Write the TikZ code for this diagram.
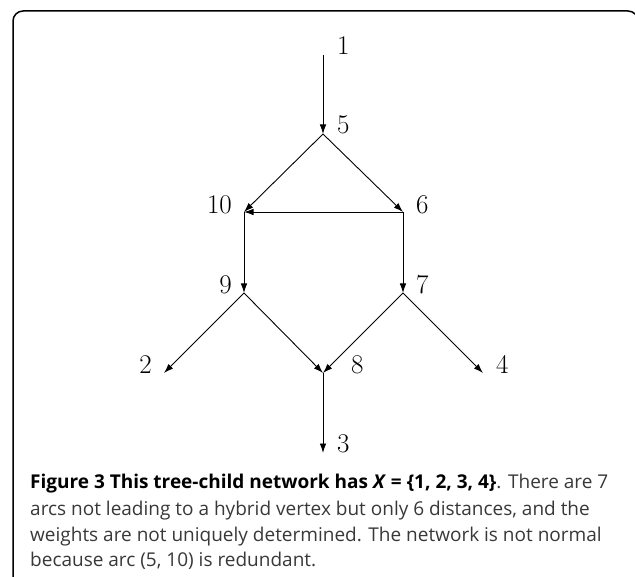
\documentclass[tikz,border=0pt]{standalone}
\usepackage{fontspec}
\newfontfamily\capfont{Open Sans}
\usetikzlibrary{arrows.meta}
\begin{document}
\begin{tikzpicture}[x=1pt,y=-1pt,
  arc/.style={line width=0.9pt,-{Latex[length=9.5pt,width=6.5pt]}},
  vlab/.style={inner sep=0pt,font=\fontsize{27}{27}\selectfont},
  rlab/.style={vlab,anchor=base west},
  llab/.style={vlab,anchor=base east},
  capline/.style={inner sep=0pt,anchor=base west,font=\capfont\fontsize{19}{19}\selectfont,text=black!78}]
\useasboundingbox (0,0) rectangle (635,577);
\draw[line width=1.5pt,rounded corners=10pt] (13,590) -- (13,11) -- (638,11) -- (638,590);
% vertices
\coordinate (v1) at (323,55);
\coordinate (v5) at (323,134);
\coordinate (v10) at (244,212);
\coordinate (v6) at (403,212);
\coordinate (v9) at (244,293);
\coordinate (v7) at (403,293);
\coordinate (v2) at (164,373);
\coordinate (v8) at (323,373);
\coordinate (v4) at (483,373);
\coordinate (v3) at (323,453);
% labels
\node[rlab] (l1) at (337,55) {1};
\node[rlab] (l5) at (337,134) {5};
\node[llab] (l10) at (232,214) {10};
\node[rlab] (l6) at (416,214) {6};
\node[llab] (l9) at (232,294) {9};
\node[rlab] (l7) at (416,294) {7};
\node[llab] (l2) at (152,374) {2};
\node[rlab] (l8) at (351,374) {8};
\node[rlab] (l4) at (496,374) {4};
\node[rlab] (l3) at (337,453) {3};
% arcs
\draw[arc] (v1) -- (v5);
\draw[arc] (v5) -- (v10);
\draw[arc] (v5) -- (v6);
\draw[arc] (v6) -- (v10);
\draw[arc] (v10) -- (v9);
\draw[arc] (v6) -- (v7);
\draw[arc] (v9) -- (v2);
\draw[arc] (v9) -- (v8);
\draw[arc] (v7) -- (v8);
\draw[arc] (v7) -- (v4);
\draw[arc] (v8) -- (v3);
% caption
\node[capline] (c1) at (30,488) {\textbf{\color{black}Figure 3 This tree-child network has \textit{X} = \{1, 2, 3, 4\}}. There are 7};
\node[capline] (c2) at (30,515) {arcs not leading to a hybrid vertex but only 6 distances, and the};
\node[capline] (c3) at (30,541) {weights are not uniquely determined. The network is not normal};
\node[capline] (c4) at (30,566) {because arc (5, 10) is redundant.};
\end{tikzpicture}
\end{document}
